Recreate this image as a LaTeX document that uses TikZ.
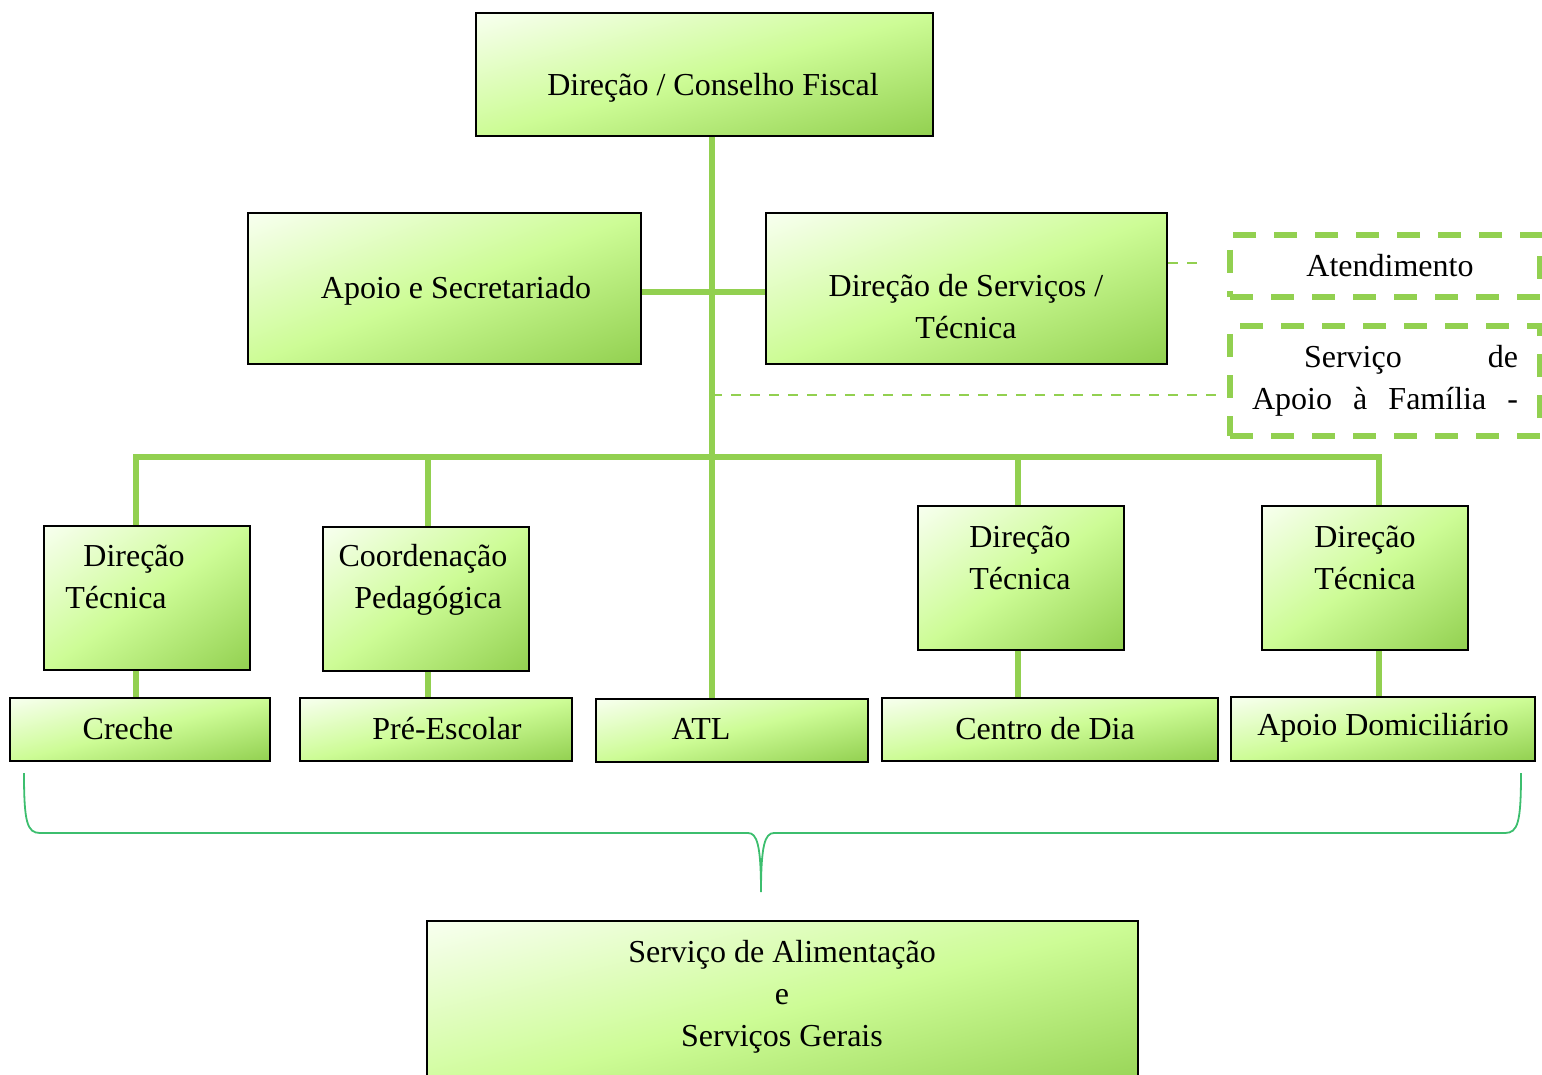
\documentclass[tikz,border=0pt]{standalone}
\usepackage{fontspec}
\setmainfont{Liberation Serif}
\usetikzlibrary{positioning}

\definecolor{lgreen}{RGB}{146,208,80}
\definecolor{bracegreen}{RGB}{60,190,110}

% diagonal fill: light at top left, darker green at bottom right
\pgfdeclarefunctionalshading{boxshade}{\pgfpoint{-50bp}{-50bp}}{\pgfpoint{50bp}{50bp}}{}{
  exch sub 100 div 0.5 add
  dup 0 lt {pop 0} if dup 1 gt {pop 1} if
  dup 0.5 lt
  { 2 mul
    dup 59 mul 146 add 255 div exch
    dup 44 mul 208 add 255 div exch
    70 mul 80 add 255 div }
  { 2 mul 1 sub
    dup 43 mul 205 add 255 div exch
    dup 3 mul 252 add 255 div exch
    90 mul 150 add 255 div }
  ifelse
}

\tikzset{
  box/.style={draw=black, line width=1pt, shading=boxshade, inner sep=0pt},
  txt/.style={font=\fontsize{16}{21}\selectfont, align=center, inner sep=0pt},
  link/.style={draw=lgreen, line width=2.8pt},
  dlink/.style={draw=lgreen, line width=1.1pt, dash pattern=on 5pt off 4.5pt},
  dbox/.style={txt, draw=lgreen, line width=2.6pt, dash pattern=on 11.5pt off 9pt},
  brace/.style={draw=bracegreen, line width=0.9pt},
}

\begin{document}
\begin{tikzpicture}[x=0.5pt, y=-0.5pt]
\useasboundingbox (0,0) rectangle (1542,1075);

% top levels
\node[box, minimum width=228.5pt, minimum height=61.5pt] (top) at (704.5,74.5) {};
\node[txt] (ttop) at (713,88) {Direção / Conselho Fiscal};
\node[box, minimum width=196.5pt, minimum height=75.5pt] (apoio) at (444.5,288.5) {};
\node[txt] (tapoio) at (456,291) {Apoio e Secretariado};
\node[box, minimum width=200.5pt, minimum height=75.5pt] (dserv) at (966.5,288.5) {};
\node[txt] (tdserv) at (966,307) {Direção de Serviços /\\Técnica};

% dashed boxes on the right
\node[dbox, minimum width=155pt, minimum height=31pt] (atend) at (1385,266) {\hspace*{5pt}Atendimento};
\node[dbox, minimum width=155pt, minimum height=55pt, text width=133pt, align=left] (safam) at (1385,381)
  {\hspace*{26pt}Serviço\hfill de\\Apoio\hfill à\hfill Família\hfill -};

% directions
\node[box, minimum width=103pt, minimum height=72pt] (dt1) at (147,598) {};
\node[txt, align=left, anchor=west] (tdt1) at (65,577) {\hspace*{9pt}Direção\\Técnica};
\node[box, minimum width=103pt, minimum height=72pt] (coord) at (426,599) {};
\node[txt] (tcoord) at (423,580) {Coordenação\\\hspace*{5pt}Pedagógica};
\node[box, minimum width=103pt, minimum height=72pt] (dt3) at (1021,578) {};
\node[txt] (tdt3) at (1020,558) {Direção\\Técnica};
\node[box, minimum width=103pt, minimum height=72pt] (dt4) at (1365,578) {};
\node[txt] (tdt4) at (1365,558) {Direção\\Técnica};

% services
\node[box, minimum width=130pt, minimum height=31.5pt] (creche) at (140,729.5) {};
\node[txt] (tcreche) at (128,729) {Creche};
\node[box, minimum width=136pt, minimum height=31.5pt] (pre) at (436,729.5) {};
\node[txt] (tpre) at (447,729) {Pré-Escolar};
\node[box, minimum width=136pt, minimum height=31.5pt] (atl) at (732,730.5) {};
\node[txt] (tatl) at (701,729) {ATL};
\node[box, minimum width=168pt, minimum height=31.5pt] (centro) at (1050,729.5) {};
\node[txt] (tcentro) at (1045,729) {Centro de Dia};
\node[box, minimum width=152pt, minimum height=32pt] (apdom) at (1383,729) {};
\node[txt] (tapdom) at (1383,728) {Apoio Domiciliário};

% bottom
\node[box, minimum width=355.5pt, minimum height=89.5pt] (alim) at (782.5,1010.5) {};
\node[txt] (talim) at (782,997) {Serviço de Alimentação\\e\\Serviços Gerais};

% connectors
\coordinate (trunk) at (712,457);
\coordinate (b1) at (136,457);
\coordinate (b2) at (428,457);
\coordinate (b3) at (1018,457);
\coordinate (b4) at (1379,457);
\coordinate (side) at (712,292);
\coordinate (atd) at (1200,263);
\coordinate (safin) at (1222,395);

\draw[link] (top.south -| trunk) -- (atl.north -| trunk);
\draw[link] (apoio.east |- side) -- (dserv.west |- side);
\draw[link] (dt1.north -| b1) -- (b1) -- (b4) -- (dt4.north -| b4);
\draw[link] (b2) -- (coord.north -| b2);
\draw[link] (b3) -- (dt3.north -| b3);
\draw[link] (dt1.south -| b1) -- (creche.north -| b1);
\draw[link] (coord.south -| b2) -- (pre.north -| b2);
\draw[link] (dt3.south -| b3) -- (centro.north -| b3);
\draw[link] (dt4.south -| b4) -- (apdom.north -| b4);
\draw[dlink] (dserv.east |- atd) -- (atd);
\draw[dlink] (safin -| trunk) -- (safin);

% brace
\draw[brace] (24,773) .. controls (24,822) and (27,833) .. (40,833) -- (748,833)
  .. controls (757,833) and (761,845) .. (761,892)
  .. controls (761,845) and (765,833) .. (774,833) -- (1505,833)
  .. controls (1518,833) and (1521,822) .. (1521,773);
\end{tikzpicture}
\end{document}
